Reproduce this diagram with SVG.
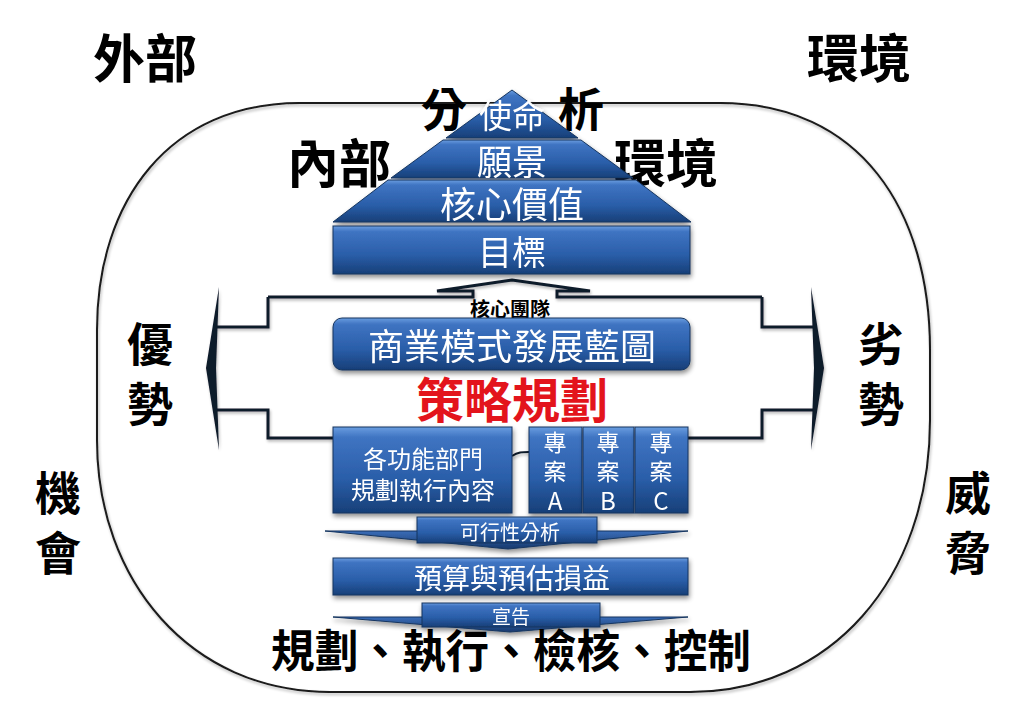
<svg xmlns="http://www.w3.org/2000/svg" width="1024" height="708" viewBox="0 0 1024 708">
<defs>
<linearGradient id="blue" x1="0" y1="0" x2="0" y2="1">
<stop offset="0" stop-color="#6a9de0"/>
<stop offset="0.12" stop-color="#3f74c2"/>
<stop offset="0.6" stop-color="#2a5ea9"/>
<stop offset="1" stop-color="#173f78"/>
</linearGradient>
<linearGradient id="wedge" x1="0" y1="0" x2="0" y2="1">
<stop offset="0" stop-color="#3a6db8"/>
<stop offset="1" stop-color="#17396d"/>
</linearGradient>
<filter id="sh" x="-10%" y="-20%" width="120%" height="150%">
<feGaussianBlur in="SourceAlpha" stdDeviation="2.5"/>
<feOffset dx="1" dy="3" result="b"/>
<feComponentTransfer><feFuncA type="linear" slope="0.45"/></feComponentTransfer>
<feMerge><feMergeNode/><feMergeNode in="SourceGraphic"/></feMerge>
</filter>
<filter id="lsh" x="-5%" y="-5%" width="110%" height="110%">
<feGaussianBlur in="SourceAlpha" stdDeviation="1.5"/>
<feOffset dx="1" dy="2"/>
<feComponentTransfer><feFuncA type="linear" slope="0.3"/></feComponentTransfer>
<feMerge><feMergeNode/><feMergeNode in="SourceGraphic"/></feMerge>
</filter>
</defs>
<style>
.box{fill:url(#blue);stroke:#15355f;stroke-width:1}
.wt{fill:#ffffff;font-family:"Noto Sans CJK TC","Noto Sans CJK SC",sans-serif;text-anchor:middle;dominant-baseline:central}
.bk{fill:#000000;font-family:"Noto Sans CJK TC","Noto Sans CJK SC",sans-serif;font-weight:bold;text-anchor:middle;dominant-baseline:central}
.ln{fill:none;stroke:#111a2a;stroke-width:3;stroke-linejoin:miter}
.tip{fill:#111a2a}
</style>
<rect width="1024" height="708" fill="#ffffff"/>

<g id="frame">
<path d="M300,103 L720,103 C860,103 930,210 930,350 L930,420 C930,580 830,692 690,692 L330,692 C190,692 97,580 97,440 L97,330 C97,200 170,103 300,103 Z" fill="none" stroke="#1a1a1a" stroke-width="2" filter="url(#lsh)"/>
</g>

<g id="outer-labels">
<text class="bk" x="145" y="55" font-size="52">外部</text>
<text class="bk" x="859" y="55" font-size="52">環境</text>
<text class="bk" x="444" y="106" font-size="46">分</text>
<text class="bk" x="581" y="106" font-size="46">析</text>
<text class="bk" x="339" y="160" font-size="52">內部</text>
<text class="bk" x="666" y="160" font-size="52">環境</text>
<text class="bk" x="150" y="341" font-size="46">優</text>
<text class="bk" x="150" y="401" font-size="46">勢</text>
<text class="bk" x="881" y="341" font-size="46">劣</text>
<text class="bk" x="881" y="401" font-size="46">勢</text>
<text class="bk" x="58" y="490" font-size="46">機</text>
<text class="bk" x="58" y="550" font-size="46">會</text>
<text class="bk" x="968" y="490" font-size="46">威</text>
<text class="bk" x="968" y="550" font-size="46">脅</text>
</g>

<g id="connectors" filter="url(#lsh)">
<path class="ln" d="M268,297 L473,297 L473,291 L437,291 L512,280 L590,291 L557,291 L557,297 L762,297"/>
<path class="ln" d="M268,297 L268,327 L216,327"/>
<path class="ln" d="M216,410 L268,410 L268,438 L333,438"/>
<polygon class="tip" points="219,287 206,368 219,450 216,368"/>
<path class="ln" d="M762,297 L762,327 L813,327"/>
<path class="ln" d="M813,410 L762,410 L762,438 L688,438"/>
<polygon class="tip" points="811,287 824,368 811,450 814,368"/>
<path fill="none" stroke="#111a2a" stroke-width="2" d="M512,456 C518,452 522,452 529,452"/>
</g>

<g id="pyramid" filter="url(#sh)">
<polygon class="box" points="512,90 578,138 446,138"/>
<polygon class="box" points="443,140 581,140 633,178 391,178"/>
<polygon class="box" points="388,180 636,180 691,222 333,222"/>
<text class="wt" x="512" y="114" font-size="33">使命</text>
<text class="wt" x="512" y="159" font-size="35">願景</text>
<text class="wt" x="512" y="202" font-size="36">核心價值</text>
</g>

<g id="goal" filter="url(#sh)">
<rect class="box" x="333" y="226" width="357" height="48"/>
<text class="wt" x="512" y="250" font-size="34">目標</text>
</g>

<g id="core-team">
<text class="bk" x="510" y="308" font-size="20">核心團隊</text>
</g>

<g id="blueprint" filter="url(#sh)">
<rect class="box" x="333" y="318" width="357" height="52" rx="9"/>
<text class="wt" x="512" y="344" font-size="36">商業模式發展藍圖</text>
</g>

<g id="strategy">
<text x="512" y="397" font-size="48" font-weight="bold" fill="#e3141c" text-anchor="middle" dominant-baseline="central" font-family="'Noto Sans CJK TC','Noto Sans CJK SC',sans-serif">策略規劃</text>
</g>

<g id="departments" filter="url(#sh)">
<rect class="box" x="333" y="427" width="179" height="86"/>
<text class="wt" x="423" y="457" font-size="24">各功能部門</text>
<text class="wt" x="423" y="488" font-size="24">規劃執行內容</text>
</g>

<g id="projectA" filter="url(#sh)">
<rect class="box" x="529" y="427" width="53" height="86"/>
<text class="wt" x="555" y="441" font-size="23">專</text>
<text class="wt" x="555" y="470" font-size="23">案</text>
<text class="wt" x="555" y="499" font-size="24" font-family="'Liberation Sans',sans-serif">A</text>
</g>
<g id="projectB" filter="url(#sh)">
<rect class="box" x="583" y="427" width="51" height="86"/>
<text class="wt" x="608" y="441" font-size="23">專</text>
<text class="wt" x="608" y="470" font-size="23">案</text>
<text class="wt" x="608" y="499" font-size="24" font-family="'Liberation Sans',sans-serif">B</text>
</g>
<g id="projectC" filter="url(#sh)">
<rect class="box" x="635" y="427" width="53" height="86"/>
<text class="wt" x="661" y="441" font-size="23">專</text>
<text class="wt" x="661" y="470" font-size="23">案</text>
<text class="wt" x="661" y="499" font-size="24" font-family="'Liberation Sans',sans-serif">C</text>
</g>

<g id="feasibility" filter="url(#sh)">
<polygon points="325,531 688,531 508,549" fill="url(#wedge)" stroke="#15355f" stroke-width="1"/>
<rect class="box" x="417" y="517" width="180" height="26"/>
<text class="wt" x="510" y="531" font-size="20">可行性分析</text>
</g>

<g id="budget" filter="url(#sh)">
<rect class="box" x="333" y="558" width="355" height="37"/>
<text class="wt" x="512" y="577" font-size="28">預算與預估損益</text>
</g>

<g id="announce" filter="url(#sh)">
<polygon points="333,617 688,617 510,632" fill="url(#wedge)" stroke="#15355f" stroke-width="1"/>
<rect class="box" x="422" y="603" width="178" height="24"/>
<text class="wt" x="511" y="615" font-size="19">宣告</text>
</g>

<g id="cycle">
<text class="bk" x="511" y="648" font-size="45" textLength="480" lengthAdjust="spacingAndGlyphs">規劃、執行、檢核、控制</text>
</g>
</svg>
